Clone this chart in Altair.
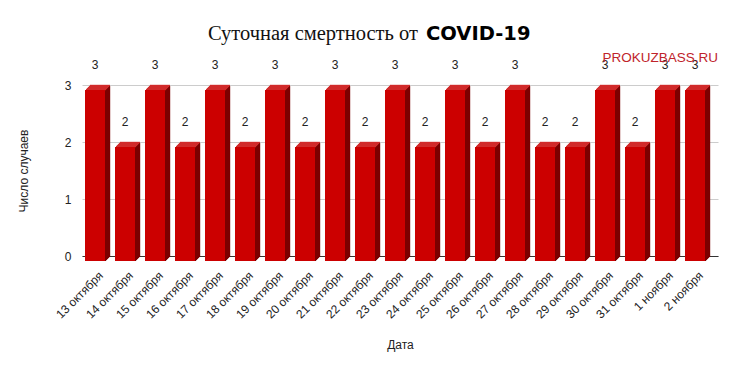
import altair as alt
import pandas as pd

dates = ["13 октября", "14 октября", "15 октября", "16 октября", "17 октября",
         "18 октября", "19 октября", "20 октября", "21 октября", "22 октября",
         "23 октября", "24 октября", "25 октября", "26 октября", "27 октября",
         "28 октября", "29 октября", "30 октября", "31 октября", "1 ноября",
         "2 ноября"]
deaths = [3, 2, 3, 2, 3, 2, 3, 2, 3, 2, 3, 2, 3, 2, 3, 2, 2, 3, 2, 3, 3]
y_ticks = [0, 1, 2, 3]
title_ru = "Суточная смертность от"
title_en = "COVID-19"
watermark = "PROKUZBASS.RU"
x_title = "Дата"
y_title = "Число случаев"

df = pd.DataFrame({"date": dates, "deaths": deaths, "zero": [0] * len(dates)})

FRONT = "#cc0000"
SIDE = "#7c0000"
TOP = "#d12b2b"
DEPTH = 5
FONT = "Liberation Sans"
W, H = 636, 171

xenc = alt.X(
    "date:N", sort=dates,
    scale=alt.Scale(paddingInner=1 / 3, paddingOuter=0.2667, align=0.1875),
    axis=alt.Axis(title=x_title, labelAngle=-45, labelAlign="right",
                  labelBaseline="middle", labelPadding=17, labelOffset=6,
                  ticks=False, domainColor="#333333", grid=False,
                  labelFont=FONT, labelFontSize=12, labelColor="#222222",
                  titleFont=FONT, titleFontSize=12, titleFontWeight="normal",
                  titleColor="#222222", titlePadding=19),
)
yenc = alt.Y(
    "deaths:Q",
    scale=alt.Scale(domain=[0, 3], nice=False),
    axis=alt.Axis(title=y_title, values=y_ticks, format="d", grid=True,
                  gridColor="#cccccc", domain=False, ticks=False,
                  labelPadding=11, labelFont=FONT, labelFontSize=12,
                  labelColor="#222222", titleFont=FONT, titleFontSize=12,
                  titleFontWeight="normal", titleColor="#222222",
                  titlePadding=34),
)

base = alt.Chart(df)
layers = []
for k in range(DEPTH):
    layers.append(
        base.mark_bar(color=SIDE, size=1.4, xOffset=10.5 + k,
                      yOffset=DEPTH - k, y2Offset=DEPTH - k)
        .encode(x=xenc, y=yenc, y2="zero:Q")
    )
for j in range(DEPTH):
    layers.append(
        base.mark_tick(color=TOP, thickness=1.4, size=20, xOffset=5 - j,
                       yOffset=j + 0.5, opacity=1)
        .encode(x=xenc, y=yenc)
    )
layers.append(
    base.mark_bar(color=FRONT, size=20, yOffset=DEPTH, y2Offset=DEPTH)
    .encode(x=xenc, y=yenc, y2="zero:Q")
)
layers.append(
    base.mark_text(dy=-20, font=FONT, fontSize=12, color="#222222")
    .encode(x=xenc, y=yenc, text="deaths:Q")
)

tdf = pd.DataFrame({"ru": [title_ru], "en": [title_en], "wm": [watermark]})
tbase = alt.Chart(tdf)
layers.append(
    tbase.mark_text(font="Liberation Serif", fontSize=20.5, align="right",
                    baseline="alphabetic", color="#111111")
    .encode(x=alt.value(336), y=alt.value(-45), text="ru:N")
)
layers.append(
    tbase.mark_text(font="DejaVu Sans", fontSize=19.5, fontWeight="bold",
                    align="left", baseline="alphabetic", color="#000000")
    .encode(x=alt.value(344), y=alt.value(-45), text="en:N")
)
layers.append(
    tbase.mark_text(font=FONT, fontSize=13.5, align="right",
                    baseline="middle", color="#c0232b")
    .encode(x=alt.value(W), y=alt.value(-27), text="wm:N")
)

chart = alt.layer(*layers).properties(
    width=W, height=H,
    autosize=alt.AutoSizeParams(type="none"),
    padding={"left": 74, "top": 77, "right": 11, "bottom": 100},
).configure_view(stroke=None)

chart.save("out.html", embed_options={"renderer": "svg", "actions": False})
